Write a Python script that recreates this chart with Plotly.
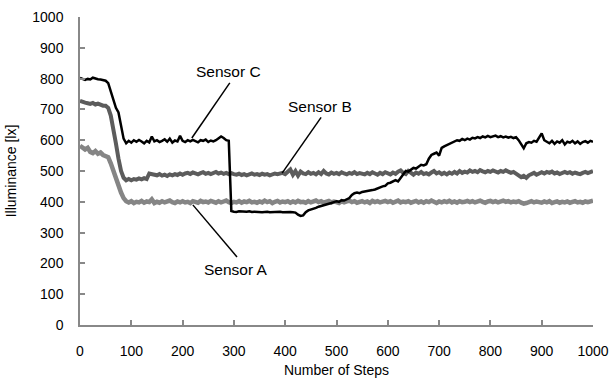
import plotly.graph_objects as go

steps = list(range(0, 1001, 5))

sensor_c = [
    802, 798, 796, 799, 797, 803, 800, 798, 797, 796,
    793, 785, 760, 730, 705, 690, 650, 605, 590, 598,
    592, 600, 595, 601, 596, 590, 598, 593, 612, 596,
    600, 594, 598, 603, 595, 605, 592, 599, 596, 614,
    598, 594, 600, 596, 601, 597, 593, 600, 598, 602,
    594, 599, 596, 600, 605, 612, 607, 600, 598, 370,
    368, 367, 369, 368, 367, 368, 369, 367, 368, 367,
    368, 366, 367, 368, 366, 367, 366, 367, 368, 366,
    367, 366, 367, 366, 365, 358, 354, 356, 366, 372,
    374, 378, 380, 384, 386, 388, 392, 394, 396, 399,
    402, 400, 405, 404, 408, 412, 422, 428, 430, 428,
    432, 433, 435, 436, 438, 440, 444, 446, 450, 452,
    460, 462, 466, 470, 466, 478, 490, 500, 498, 505,
    510, 508, 515, 520, 518, 522, 540, 552, 556, 560,
    550, 575, 580, 584, 590, 592, 596, 600, 598, 604,
    600, 605, 602, 608, 606, 610, 607, 612, 609, 614,
    610, 612, 615, 610, 613, 609, 612, 608, 611, 607,
    610, 600, 588, 574, 590, 594, 592, 598, 595, 610,
    622, 600, 596, 590, 598, 588, 596, 592, 600, 586,
    595, 592, 598, 590, 596, 588, 594, 597, 592, 598,
    595,
]

sensor_b = [
    728, 724, 722, 720, 718, 721, 716, 719, 714, 712,
    712, 705, 680, 640, 590, 540, 500, 478, 470, 474,
    470, 474, 472, 476, 473, 477, 474, 492, 490, 488,
    486, 490, 485, 488, 484, 489, 486, 490, 487, 492,
    488, 492, 494, 490, 495, 492, 489, 493, 496, 491,
    494, 490, 493, 497, 492, 495, 491, 494, 490, 493,
    490, 488, 491, 487, 490, 486, 489, 492, 488, 490,
    487, 491, 488, 490, 486, 489, 492, 490, 491, 494,
    490, 496, 505, 488, 500, 485, 498, 492, 490, 496,
    491, 494, 489, 496, 490, 500, 492, 489, 495, 491,
    494, 490, 496, 492, 489, 494, 491, 496, 490, 493,
    491, 489, 494, 490, 496, 492, 488, 494, 490, 496,
    493, 489, 495, 491, 498, 502, 494, 490, 500, 492,
    488, 495, 491, 497, 490, 493, 489, 495, 500, 492,
    496, 490, 494, 489, 495, 491, 497, 492, 500, 494,
    498, 495, 502, 497, 500, 496, 503, 499, 496, 500,
    497, 502, 498, 495, 500, 497, 502, 498, 494, 497,
    492, 488, 480, 484, 478, 486, 490, 494, 488, 492,
    496, 492, 497, 494, 498, 492, 495, 490, 494, 497,
    493, 496, 491, 495, 492, 490, 494, 497, 493, 498,
    500,
]

sensor_a = [
    582, 578, 570, 575, 562, 558, 565, 556, 560, 552,
    550, 545, 525, 500, 475, 450, 430, 412, 402, 398,
    402, 396, 400, 398, 403, 397, 401, 399, 408, 396,
    400, 397, 402, 398, 401, 404, 399, 396, 401, 398,
    402, 398, 400, 396, 402, 399, 397, 403, 399, 401,
    398, 403, 400, 397, 402, 398, 401, 404, 399, 396,
    400, 398, 402, 397, 401, 399, 403, 398, 400, 397,
    401, 398, 404, 399, 402, 396, 400, 403, 398, 401,
    399, 402, 397, 401, 398, 403, 399, 400, 397, 402,
    398, 401, 404, 399, 402, 397, 401, 403, 398, 401,
    399, 396, 402, 398, 401, 404, 399, 402, 397, 400,
    402, 398, 401, 396, 403, 399, 402, 398, 400, 403,
    399, 402, 397, 401, 404, 398, 401, 399, 402, 397,
    400, 403, 398, 401, 397, 402, 399, 404, 400, 396,
    401, 398, 402, 399, 403, 398, 401, 397, 402, 399,
    400, 403, 399, 402, 398, 401, 404, 400, 397, 401,
    403, 399, 402, 398, 401, 404, 400, 402, 398, 401,
    399, 402, 397, 394, 396, 400, 402, 398, 401, 399,
    397, 401, 398, 402, 396, 399, 401, 397, 400, 398,
    401, 397, 399, 402, 398, 400, 397, 401, 399, 403,
    404,
]

tick_vals = list(range(0, 1001, 100))

# label text, label position (x, y), leader line start (x, y) and end (x, y)
label_names = ["Sensor C", "Sensor B", "Sensor A"]
label_pos = [(290, 823), (468, 711), (304, 179)]
leader_start = [(292, 786), (470, 674), (306, 221)]
leader_end = [(218, 607), (394, 493), (220, 390)]

fig = go.Figure()
fig.add_trace(go.Scatter(x=steps, y=sensor_a, mode="lines", name="Sensor A",
                         line=dict(color="#858585", width=4.5)))
fig.add_trace(go.Scatter(x=steps, y=sensor_b, mode="lines", name="Sensor B",
                         line=dict(color="#5c5c5c", width=4)))
fig.add_trace(go.Scatter(x=steps, y=sensor_c, mode="lines", name="Sensor C",
                         line=dict(color="#000000", width=2.5)))

for name, p, s, e in zip(label_names, label_pos, leader_start, leader_end):
    fig.add_annotation(x=p[0], y=p[1], text=name, showarrow=False,
                       font=dict(family="Liberation Sans, Arial", size=15.5, color="#000"))
    fig.add_shape(type="line", x0=s[0], y0=s[1], x1=e[0], y1=e[1],
                  line=dict(color="#000", width=1.5))

axis_common = dict(
    showgrid=False, zeroline=False, showline=True, linecolor="#888888", linewidth=1.5,
    ticks="inside", ticklen=5, tickcolor="#888888", tickwidth=1.5,
    tickfont=dict(family="Liberation Sans, Arial", size=14, color="#000"),
    range=[0, 1000], tickvals=tick_vals, automargin=False,
)

fig.update_layout(
    width=610, height=378,
    margin=dict(l=80, r=17, t=17, b=53),
    paper_bgcolor="white", plot_bgcolor="white",
    showlegend=False,
    font=dict(family="Liberation Sans, Arial", size=14, color="#000"),
    xaxis=dict(**axis_common, title=dict(text="Number of Steps", standoff=8,
                                         font=dict(size=14)), ticklabelstandoff=12),
    yaxis=dict(**axis_common, title=dict(text="Illuminance [lx]", standoff=12,
                                         font=dict(size=14)), ticklabelstandoff=12),
)

fig.write_html("out.html")
